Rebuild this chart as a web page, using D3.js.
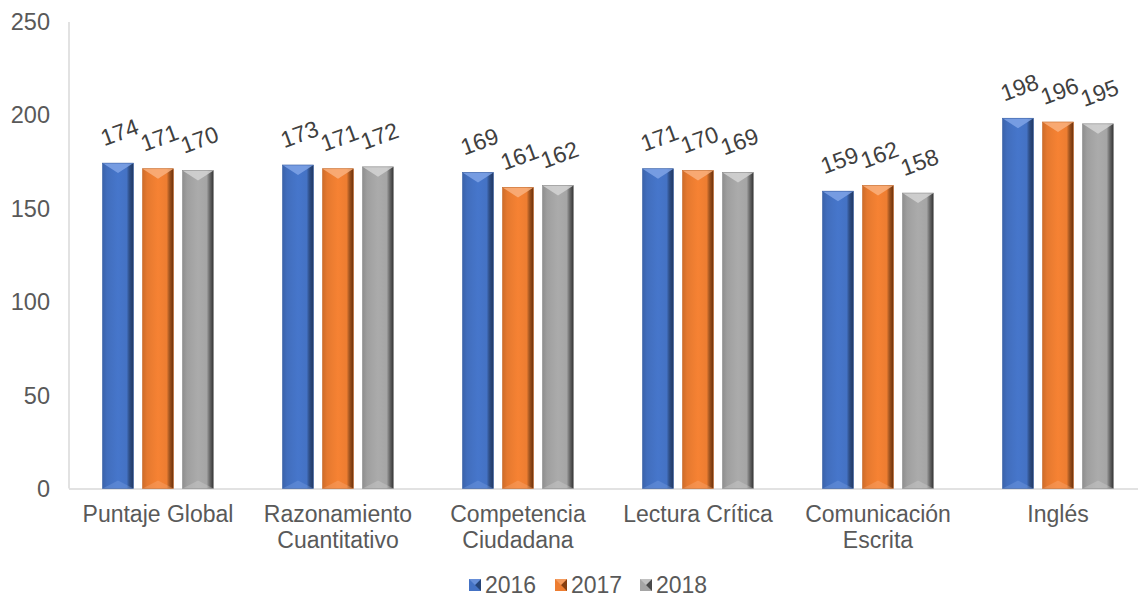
<!DOCTYPE html>
<html><head><meta charset="utf-8">
<script src="https://cdn.jsdelivr.net/npm/d3@7"></script>
<style>body{margin:0;background:#fff}svg{display:block;font-family:"Liberation Sans",Arial,sans-serif}</style>
</head><body><svg id="c" width="1141" height="600"></svg>
<script>
const categories = [["Puntaje Global"],["Razonamiento","Cuantitativo"],["Competencia","Ciudadana"],["Lectura Crítica"],["Comunicación","Escrita"],["Inglés"]];
const seriesNames = ["2016","2017","2018"];
const values2016 = [174,173,169,171,159,198];
const values2017 = [171,171,161,170,162,196];
const values2018 = [170,172,162,169,158,195];
const yTicks = [0,50,100,150,200,250];
const colors = ["#4472C4","#ED7D31","#A5A5A5"];
const dark = ["#1F3864","#6B300A","#333333"];
const light = ["#7FA3E6","#F9B07E","#D4D4D4"];

const svg = d3.select("#c");
const defs = svg.append("defs");
colors.forEach((c,i)=>{
  const g = defs.append("linearGradient").attr("id","g"+i).attr("x1",0).attr("x2",1).attr("y1",0).attr("y2",0);
  g.append("stop").attr("offset","0%").attr("stop-color",d3.color(c).darker(0.4));
  g.append("stop").attr("offset","15%").attr("stop-color",d3.color(c).darker(0.1));
  g.append("stop").attr("offset","50%").attr("stop-color",d3.color(c).brighter(0.1));
  g.append("stop").attr("offset","78%").attr("stop-color",c);
  g.append("stop").attr("offset","86%").attr("stop-color",d3.color(c).darker(1));
  g.append("stop").attr("offset","100%").attr("stop-color",dark[i]);
});

const data = categories.map((c,i)=>({cat:i, vals:[values2016[i],values2017[i],values2018[i]]}));
const x = d3.scaleBand().domain(d3.range(categories.length)).range([68,1148]).paddingInner(0).paddingOuter(0);
const y = d3.scaleLinear().domain([0,250]).range([488.5,21]);
const bw = 31, gap = 9;
const groupW = 3*bw+2*gap;

// axes
const yAxis = d3.axisLeft(y).tickValues(yTicks).tickSize(0).tickPadding(19);
const ya = svg.append("g").attr("transform","translate(69,0)").call(yAxis);
ya.select(".domain").remove();
ya.selectAll("text").attr("fill","#595959").style("font-size","23.5px").attr("dy","0.35em").style("font-family","Liberation Sans, Arial, sans-serif");
svg.append("line").attr("x1",69).attr("x2",69).attr("y1",22).attr("y2",y(0)).attr("stroke","#D9D9D9").attr("stroke-width",1.5);
svg.append("line").attr("x1",69).attr("x2",1138).attr("y1",y(0)+0.5).attr("y2",y(0)+0.5).attr("stroke","#D9D9D9").attr("stroke-width",1.5);

// bars
const gs = svg.selectAll(".grp").data(data).enter().append("g")
  .attr("transform",d=>`translate(${x(d.cat)+x.bandwidth()/2-groupW/2},0)`);
gs.each(function(d){
  const g = d3.select(this);
  d.vals.forEach((v,s)=>{
    const bx = s*(bw+gap), top = y(v), b = y(0), h = b-top;
    g.append("rect").attr("x",bx).attr("y",top).attr("width",bw).attr("height",h).attr("fill",`url(#g${s})`);
    g.append("path").attr("d",`M${bx},${top} L${bx+bw},${top} L${bx+bw/2},${top+10} Z`).attr("fill",light[s]).attr("opacity",0.85);
    g.append("path").attr("d",`M${bx},${b} L${bx+bw},${b} L${bx+bw/2},${b-8} Z`).attr("fill",light[s]).attr("opacity",0.35);
    g.append("rect").attr("x",bx).attr("y",top).attr("width",bw).attr("height",h).attr("fill","none").attr("stroke",d3.color(colors[s]).darker(0.5)).attr("stroke-width",0.6);
    g.append("text").attr("transform",`translate(${bx+bw/2+1.5},${top-31}) rotate(-20)`)
      .attr("text-anchor","middle").attr("dy","0.35em").attr("fill","#404040").style("font-size","23px").text(v);
  });
});

// category labels
const cl = svg.selectAll(".cl").data(categories).enter().append("text")
  .attr("x",(d,i)=>x(i)+x.bandwidth()/2).attr("y",522).attr("text-anchor","middle")
  .attr("fill","#595959").style("font-size","23px");
cl.each(function(d){
  const t = d3.select(this);
  d.forEach((line,k)=>t.append("tspan").attr("x",t.attr("x")).attr("dy",k?"1.15em":0).text(line));
});

// legend
const lx = [469,555,640];
seriesNames.forEach((n,i)=>{
  const g = svg.append("g").attr("transform",`translate(${lx[i]},585)`);
  g.append("rect").attr("x",0).attr("y",-6).attr("width",12).attr("height",12).attr("fill",colors[i]);
  g.append("path").attr("d","M6,0 L12,-6 L12,6 Z").attr("fill",dark[i]).attr("opacity",0.8);
  g.append("path").attr("d","M0,-6 L12,-6 L6,0 Z").attr("fill",light[i]).attr("opacity",0.6);
  g.append("text").attr("x",16).attr("y",0).attr("dy","0.35em").attr("fill","#595959").style("font-size","23px").text(n);
});
</script></body></html>
